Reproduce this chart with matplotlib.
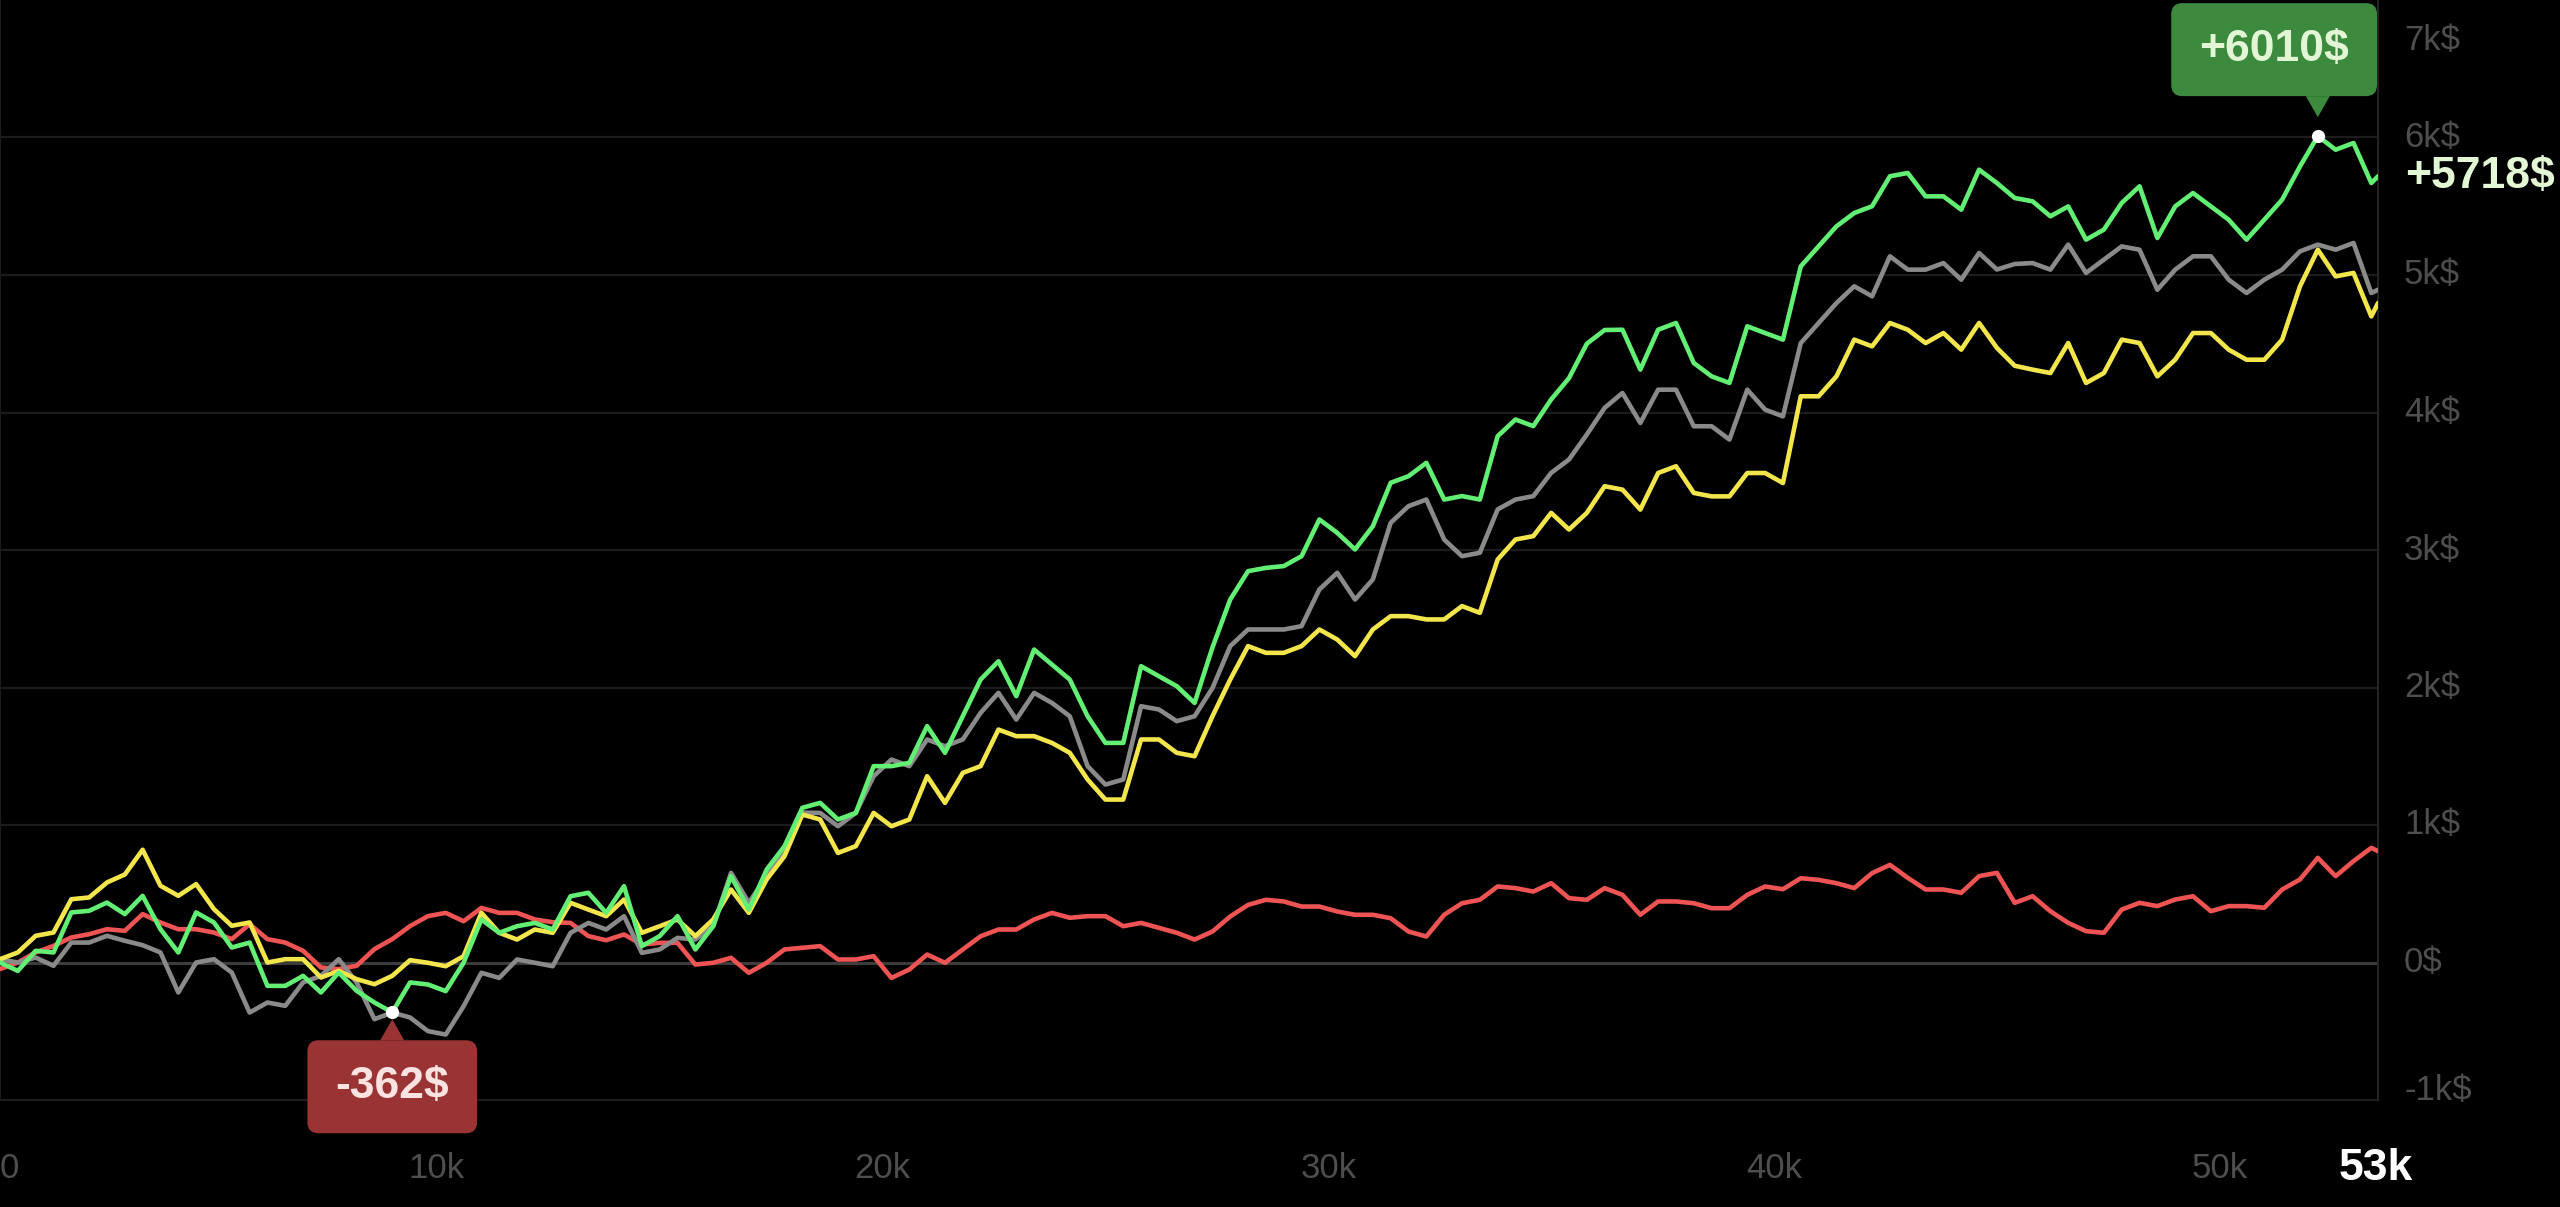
import matplotlib
matplotlib.use('Agg')
import matplotlib.pyplot as plt
from matplotlib.patches import FancyBboxPatch, Polygon
from matplotlib.transforms import IdentityTransform
import numpy as np

plt.rcParams['font.family'] = ['Liberation Sans', 'DejaVu Sans']

# ---------------- data ----------------
hands = list(range(200, 53401, 400)) + [53550]

green = [
    0, -61, 85, 73, 364, 376, 436, 352, 485, 242,
    73, 364, 291, 109, 145, -170, -170, -97, -218, -73,
    -206, -291, -362, -145, -160, -208, -2, 313, 216, 264,
    288, 240, 482, 507, 361, 555, 119, 192, 337, 95,
    264, 628, 385, 676, 846, 1125, 1161, 1040, 1088, 1428,
    1428, 1452, 1719, 1525, 1791, 2058, 2191, 1937, 2276, 2167,
    2058, 1791, 1597, 1597, 2155, 2082, 2010, 1888, 2290, 2640,
    2846, 2870, 2883, 2955, 3222, 3125, 3004, 3173, 3489, 3537,
    3634, 3367, 3392, 3367, 3828, 3949, 3901, 4095, 4250, 4500,
    4600, 4602, 4312, 4602, 4651, 4360, 4263, 4215, 4627, 4578,
    4530, 5063, 5208, 5354, 5451, 5500, 5718, 5742, 5572, 5572,
    5475, 5766, 5669, 5560, 5536, 5427, 5499, 5257, 5330, 5524,
    5645, 5269, 5499, 5596, 5499, 5402, 5257, 5402, 5548, 5790,
    6010, 5911, 5960, 5669, 5718]

gray = [
    24, 0, 36, -24, 145, 145, 194, 158, 126, 73,
    -218, 0, 24, -73, -364, -291, -315, -145, -97, 24,
    -145, -412, -364, -400, -499, -524, -318, -75, -112, 22,
    -2, -27, 216, 288, 240, 337, 70, 95, 179, 167,
    264, 652, 434, 628, 797, 1090, 1088, 991, 1088, 1355,
    1476, 1428, 1622, 1573, 1622, 1816, 1961, 1767, 1961, 1888,
    1791, 1428, 1294, 1331, 1864, 1840, 1755, 1791, 1995, 2301,
    2422, 2422, 2422, 2446, 2713, 2834, 2640, 2786, 3198, 3319,
    3367, 3076, 2955, 2980, 3295, 3367, 3392, 3561, 3658, 3840,
    4034, 4142, 3924, 4166, 4166, 3900, 3900, 3803, 4166, 4021,
    3972, 4505, 4651, 4796, 4918, 4845, 5136, 5039, 5039, 5087,
    4966, 5160, 5040, 5080, 5087, 5039, 5221, 5015, 5112, 5208,
    5184, 4893, 5039, 5136, 5136, 4966, 4869, 4966, 5039, 5172,
    5221, 5184, 5233, 4869, 4893]

yellow = [
    24, 73, 194, 218, 460, 473, 582, 640, 820, 558,
    485, 570, 388, 267, 291, 0, 24, 24, -109, -61,
    -121, -158, -97, 17, -2, -27, 46, 361, 216, 167,
    240, 216, 434, 385, 337, 458, 216, 264, 313, 192,
    313, 531, 361, 604, 773, 1076, 1040, 797, 846, 1088,
    991, 1040, 1355, 1161, 1379, 1428, 1694, 1646, 1646, 1597,
    1525, 1331, 1185, 1185, 1622, 1622, 1525, 1500, 1790, 2058,
    2301, 2252, 2252, 2301, 2422, 2349, 2228, 2422, 2519, 2519,
    2495, 2495, 2592, 2543, 2931, 3076, 3101, 3270, 3149, 3270,
    3464, 3439, 3294, 3560, 3609, 3415, 3390, 3390, 3560, 3560,
    3487, 4118, 4118, 4263, 4530, 4481, 4651, 4602, 4505, 4578,
    4457, 4651, 4470, 4340, 4312, 4287, 4505, 4215, 4287, 4530,
    4505, 4263, 4384, 4578, 4578, 4457, 4384, 4384, 4530, 4918,
    5184, 4990, 5015, 4699, 4796]

red = [
    -48, 0, 73, 121, 182, 206, 242, 230, 352, 291,
    242, 242, 218, 170, 279, 170, 145, 85, -36, -48,
    -24, 97, 170, 265, 337, 361, 300, 397, 361, 361,
    313, 293, 288, 192, 162, 204, 131, 143, 143, -15,
    -2, 34, -75, -2, 95, 107, 119, 22, 22, 46,
    -112, -51, 58, -2, 95, 191, 240, 240, 313, 361,
    325, 337, 337, 264, 288, 252, 216, 167, 225, 335,
    419, 456, 444, 407, 407, 371, 347, 347, 322, 225,
    189, 347, 431, 456, 553, 541, 516, 577, 468, 456,
    541, 492, 347, 444, 444, 431, 395, 395, 492, 553,
    533, 613, 601, 577, 541, 650, 710, 616, 531, 531,
    507, 628, 652, 434, 482, 373, 288, 228, 216, 385,
    434, 410, 458, 482, 373, 410, 410, 398, 531, 604,
    761, 628, 737, 834, 810]

y_ticks = [-1000, 0, 1000, 2000, 3000, 4000, 5000, 6000, 7000]
y_labels = ['-1k$', '0$', '1k$', '2k$', '3k$', '4k$', '5k$', '6k$', '7k$']
x_ticks = [0, 10000, 20000, 30000, 40000, 50000]
x_labels = ['0', '10k', '20k', '30k', '40k', '50k']
end_label = '53k'

# ---------------- figure ----------------
W, H = 2560, 1207
fig = plt.figure(figsize=(W / 100, H / 100), dpi=100, facecolor='black')
ax = fig.add_axes([0, (H - 1100) / H, 2378 / W, 1100 / H])
ax.set_facecolor('black')
ax.set_xlim(200, 53550)
ax.set_ylim(-1000, 7000)
ax.set_xticks([])
ax.set_yticks([])
for s in ['top', 'bottom']:
    ax.spines[s].set_visible(False)
ax.spines['left'].set_color('#1c1c1c')
ax.spines['left'].set_linewidth(1.5)
ax.spines['right'].set_color('#242424')
ax.spines['right'].set_linewidth(1.5)

for v in y_ticks:
    if v == 0:
        ax.axhline(v, color='#3c3c3c', lw=2.2, zorder=1)
    elif v == 7000:
        continue
    else:
        ax.axhline(v, color='#1c1c1c', lw=1.6, zorder=1, clip_on=False)

kw = dict(lw=3.3, solid_joinstyle='round', solid_capstyle='round')
ax.plot(hands, red, color='#ef5454', zorder=3, **kw)
ax.plot(hands, gray, color='#8a8a8a', zorder=4, **kw)
ax.plot(hands, yellow, color='#f3e64c', zorder=5, **kw)
ax.plot(hands, green, color='#62ef74', zorder=6, **kw)

tick_color = '#4e4e4e'
for v, lab in zip(y_ticks, y_labels):
    dy = 0
    if v == y_ticks[-1]:
        dy = -41
    elif v == y_ticks[0]:
        dy = 10
    ax.annotate(lab, xy=(1, v), xycoords=('axes fraction', 'data'),
                xytext=(26, dy), textcoords='offset pixels',
                ha='left', va='center', fontsize=25, color=tick_color,
                annotation_clip=False)

x0 = ax.get_xlim()[0]
for t, lab in zip(x_ticks, x_labels):
    ha = 'left' if t < x0 else 'center'
    ax.annotate(lab, xy=(max(t, x0), 0), xycoords=('data', 'axes fraction'),
                xytext=(0, -68), textcoords='offset pixels',
                ha=ha, va='center', fontsize=25, color=tick_color,
                annotation_clip=False)
ax.annotate(end_label, xy=(hands[-1], 0), xycoords=('data', 'axes fraction'),
            xytext=(-2, -68), textcoords='offset pixels',
            ha='center', va='center', fontsize=32, fontweight='bold',
            color='white', annotation_clip=False)

# final value label
ax.annotate(f'+{green[-1]}$', xy=(1, green[-1]), xycoords=('axes fraction', 'data'),
            xytext=(27, 0), textcoords='offset pixels', ha='left', va='center',
            fontsize=32, fontweight='bold', color='#e3f7d4', annotation_clip=False)

# max / min markers with callouts
imax = int(np.argmax(green))
imin = int(np.argmin(green))
ax.plot([hands[imax]], [green[imax]], 'o', color='white', ms=9.5, mec='none', zorder=8)
ax.plot([hands[imin]], [green[imin]], 'o', color='white', ms=9.5, mec='none', zorder=8)

renderer = fig.canvas.get_renderer()
ax_bbox = ax.get_window_extent(renderer)
ident = IdentityTransform()


def callout(i, text, fc, tc, above):
    px, py = ax.transData.transform((hands[i], green[i]))
    t = fig.text(0, 0, text, fontsize=32, fontweight='bold', color=tc,
                 ha='center', va='center', transform=ident, zorder=12)
    tw = t.get_window_extent(renderer).width
    w, h = tw + 56, 93
    ph, pw = 21, 24
    if above:
        tip = py + 19
        base = tip + ph
        by0 = base
    else:
        tip = py - 7
        base = tip - ph
        by0 = base - h
    bx0 = px - w / 2
    bx0 = min(bx0, ax_bbox.x1 - 1 - w)
    bx0 = max(bx0, ax_bbox.x0)
    box = FancyBboxPatch((bx0, by0), w, h, boxstyle='round,pad=0,rounding_size=11',
                         fc=fc, ec='none', transform=ident, zorder=10)
    fig.add_artist(box)
    tri = Polygon([[px - pw / 2, base], [px + pw / 2, base], [px, tip]],
                  closed=True, fc=fc, ec='none', transform=ident, zorder=10)
    fig.add_artist(tri)
    t.set_position((bx0 + w / 2, by0 + h / 2))


callout(imax, f'+{green[imax]}$', '#3b8a3e', '#e2f6d6', True)
callout(imin, f'{green[imin]}$', '#9a3434', '#fde2e2', False)

fig.savefig('out.png', dpi=100, facecolor='black')
